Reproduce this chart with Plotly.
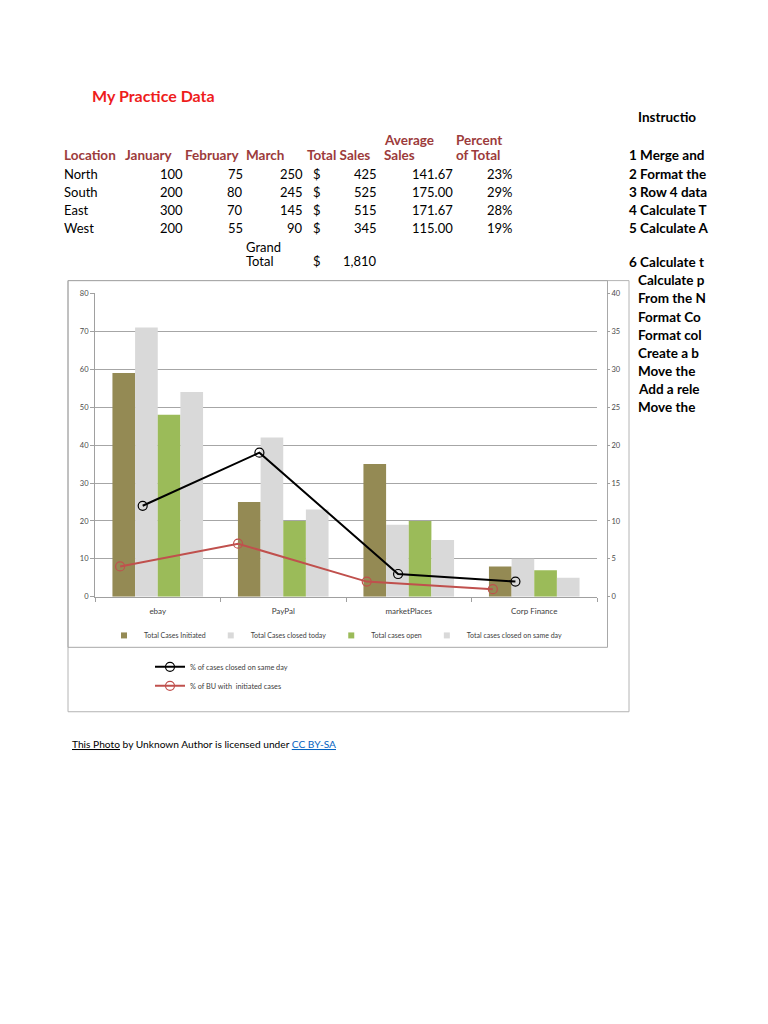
import plotly.graph_objects as go

# the page body adds an 8px margin, so the figure is drawn 8px in from the corner
OFF = 8
W, H = 760, 1016


def px(x):
    return (x - OFF) / W


def py(y):
    return 1 - (y - OFF) / H


# ---------------- spreadsheet table data ----------------
title_text = "My Practice Data"
header_cols = ["Location", "January", "February", "March", "Total Sales"]
locations = ["North", "South", "East", "West"]
january = [100, 200, 300, 200]
february = [75, 80, 70, 55]
march = [250, 245, 145, 90]
total_sales = [425, 525, 515, 345]
average_sales = [141.67, 175.00, 171.67, 115.00]
percent_of_total = [23, 29, 28, 19]
grand_total = 1810

# visible part of the instruction column (the sheet is cut off at the right)
instructions_title = "Instructio"
instructions_a = ["1 Merge and", "2 Format the", "3 Row 4 data", "4 Calculate T",
                  "5 Calculate A", "6 Calculate t"]
instructions_b = ["Calculate p", "From the N", "Format Co", "Format col",
                  "Create a b", "Move the", "Add a rele", "Move the"]

# ---------------- chart data ----------------
categories = ["ebay", "PayPal", "marketPlaces", "Corp Finance"]
cases_initiated = [59, 25, 35, 8]
cases_closed_today = [71, 42, 19, 10]
cases_open = [48, 20, 20, 7]
cases_closed_same_day = [54, 23, 15, 5]
pct_closed_same_day = [12, 19, 3, 2]
pct_bu_initiated = [4, 7, 2, 1]
# horizontal position of each line point in category units (0 = ebay)
pct_closed_same_day_x = [-0.12, 0.81, 1.915, 2.85]
pct_bu_initiated_x = [-0.30, 0.64, 1.665, 2.67]

bar_series = [
    ("Total Cases Initiated", cases_initiated, "#948A54"),
    ("Total Cases closed today", cases_closed_today, "#D9D9D9"),
    ("Total cases open", cases_open, "#9BBB59"),
    ("Total cases closed on same day", cases_closed_same_day, "#D9D9D9"),
]

FONT = "Lato"
HEAD_COLOR = "#9C3B3B"
DY = -3  # optical centring of sheet text

fig = go.Figure()

for name, vals, color in bar_series:
    fig.add_trace(go.Bar(
        x=categories, y=vals, name=name, marker=dict(color=color, line=dict(width=0)),
        xaxis="x", yaxis="y", showlegend=False, legendgroup=name,
    ))
# small square legend keys like the original chart
for name, vals, color in bar_series:
    fig.add_trace(go.Scatter(
        x=[None], y=[None], mode="markers", name=name, legendgroup=name,
        marker=dict(symbol="square", size=6, color=color),
        xaxis="x2", yaxis="y2", legend="legend", hoverinfo="skip",
    ))

fig.add_trace(go.Scatter(
    x=pct_closed_same_day_x, y=pct_closed_same_day, xaxis="x2", yaxis="y2",
    mode="lines+markers", name="% of cases closed on same day",
    line=dict(color="#000000", width=2),
    marker=dict(symbol="circle-open", size=9, color="#000000", line=dict(width=1.2)),
    legend="legend2",
))
fig.add_trace(go.Scatter(
    x=pct_bu_initiated_x, y=pct_bu_initiated, xaxis="x2", yaxis="y2",
    mode="lines+markers", name="% of BU with  initiated cases",
    line=dict(color="#C0504D", width=2),
    marker=dict(symbol="circle-open", size=9, color="#C0504D", line=dict(width=1.2)),
    legend="legend2",
))

# ---------------- sheet text ----------------
ann = []


def add_text(text, x, y, anchor="left", color="#000000", size=13, bold=False):
    ann.append(dict(
        text=f"<b>{text}</b>" if bold else text, x=px(x), y=py(y + DY), xref="paper", yref="paper",
        xanchor=anchor, yanchor="middle", showarrow=False,
        font=dict(family=FONT, size=size, color=color),
    ))


add_text(title_text, 90, 95.7, color="#EE1C1C", size=16, bold=True)

head_x = [62, 123, 183, 244, 304.5]
for h, x in zip(header_cols, head_x):
    add_text(h, x, 155, color=HEAD_COLOR, size=13.5, bold=True)
add_text("Average", 382, 140, color=HEAD_COLOR, size=13.5, bold=True)
add_text("Sales", 382, 155, color=HEAD_COLOR, size=13.5, bold=True)
add_text("Percent", 454, 140, color=HEAD_COLOR, size=13.5, bold=True)
add_text("of Total", 454, 155, color=HEAD_COLOR, size=13.5, bold=True)

row_y = [174.3, 193, 210.7, 229]
for i, y in enumerate(row_y):
    add_text(locations[i], 62, y)
    add_text(str(january[i]), 184.5, y, anchor="right")
    add_text(str(february[i]), 244.5, y, anchor="right")
    add_text(str(march[i]), 305, y, anchor="right")
    add_text("$", 311, y)
    add_text(f"{total_sales[i]:,}", 378.5, y, anchor="right")
    add_text(f"{average_sales[i]:.2f}", 455, y, anchor="right")
    add_text(f"{percent_of_total[i]}%", 515, y, anchor="right")

add_text("Grand", 244, 247.7)
add_text("Total", 244, 262.3)
add_text("$", 311, 262.3)
add_text(f"{grand_total:,}", 378.5, 262.3, anchor="right")

add_text(instructions_title, 636, 116.7, size=13.5, bold=True)
ya = [155, 174, 192.7, 211, 229.3, 263.3]
for t, y in zip(instructions_a, ya):
    add_text(t, 626.5, y, size=13.5, bold=True)
yb = [281.7, 300, 318.3, 336.7, 355, 373.3, 391, 409.3]
for t, y in zip(instructions_b, yb):
    add_text(t, 635.5, y, size=13.5, bold=True)

ann.append(dict(
    text="<u>This Photo</u> by Unknown Author is licensed under "
         "<span style='color:#0563C1'><u>CC BY-SA</u></span>",
    x=px(70), y=py(747), xref="paper", yref="paper", xanchor="left", yanchor="middle",
    showarrow=False, font=dict(family=FONT, size=10.2, color="#000000"),
))

# ---------------- frames of the pasted chart picture ----------------
shapes = [
    dict(type="rect", xref="paper", yref="paper", x0=px(68), x1=px(629), y0=py(714), y1=py(279),
         line=dict(color="#B4B4B4", width=1), layer="below"),
    dict(type="rect", xref="paper", yref="paper", x0=px(68), x1=px(607.5), y0=py(649), y1=py(279),
         line=dict(color="#A8A8A8", width=1), layer="below"),
]

dom_x = [px(95), px(597)]
dom_y = [py(598), py(292)]
tick_font = dict(family=FONT, size=7.5, color="#4A4A4A")

fig.update_layout(
    width=W, height=H, autosize=False,
    margin=dict(l=0, r=0, t=0, b=0),
    paper_bgcolor="#FFFFFF", plot_bgcolor="rgba(0,0,0,0)",
    barmode="group", bargap=0.278, bargroupgap=0,
    font=dict(family=FONT),
    xaxis=dict(domain=dom_x, anchor="y", type="category", showline=True, linecolor="#A0A0A0",
               linewidth=1, ticks="outside", tickson="boundaries", ticklen=4, tickcolor="#A0A0A0",
               ticklabelstandoff=7,
               tickfont=dict(family=FONT, size=8, color="#404040"), showgrid=False, fixedrange=True),
    yaxis=dict(domain=dom_y, anchor="x", range=[0, 80], dtick=10, showline=True,
               linecolor="#A0A0A0", linewidth=1, ticks="outside", ticklen=4, tickcolor="#A0A0A0",
               showgrid=True, gridcolor="#A6A6A6", gridwidth=1, zeroline=False,
               tickfont=tick_font, fixedrange=True),
    xaxis2=dict(domain=dom_x, overlaying="x", anchor="y2", range=[-0.5, 3.5], visible=False,
                fixedrange=True),
    yaxis2=dict(overlaying="y", side="right", anchor="free", position=px(606),
                range=[0, 40], dtick=5, showline=False, showgrid=False, zeroline=False,
                ticks="outside", ticklen=3, tickcolor="#A0A0A0", tickfont=tick_font,
                fixedrange=True),
    legend=dict(orientation="h", x=px(104), y=py(637), xanchor="left", yanchor="middle",
                font=dict(family=FONT, size=7, color="#404040"), bgcolor="rgba(0,0,0,0)",
                itemclick=False, itemdoubleclick=False),
    legend2=dict(orientation="v", x=px(150), y=py(654), xanchor="left", yanchor="top",
                 font=dict(family=FONT, size=7.3, color="#404040"), bgcolor="rgba(0,0,0,0)",
                 itemclick=False, itemdoubleclick=False),
    annotations=ann,
    shapes=shapes,
    showlegend=True,
)

fig.write_html("out.html", config={"displayModeBar": False})
